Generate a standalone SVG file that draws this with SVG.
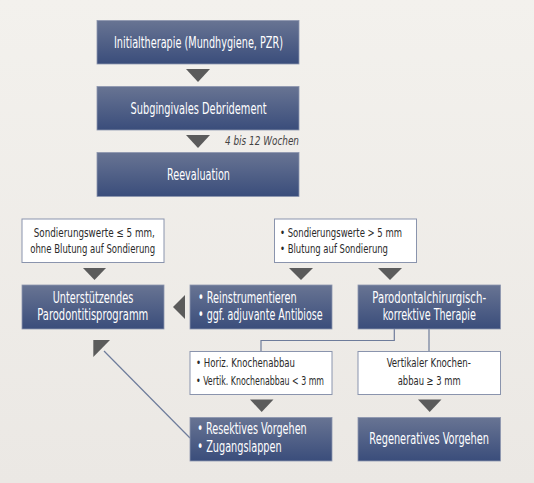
<svg xmlns="http://www.w3.org/2000/svg" width="534" height="483" viewBox="0 0 534 483">
<defs>
<linearGradient id="bg" x1="0" y1="0" x2="0" y2="1"><stop offset="0" stop-color="#f3f1ed"/><stop offset="1" stop-color="#ebe8e4"/></linearGradient>
<linearGradient id="blue" x1="0" y1="0" x2="0" y2="1"><stop offset="0" stop-color="#687493"/><stop offset="1" stop-color="#3a4d7b"/></linearGradient>
<style>
.b{fill:url(#blue);stroke:#8d96ae;stroke-width:0.8}
.w{fill:#ffffff;stroke:#8a94ad;stroke-width:1}
.tw{font-family:"Liberation Sans Narrow","DejaVu Sans Condensed","Liberation Sans",sans-serif;font-size:15px;fill:#ffffff}
.td{font-family:"Liberation Sans Narrow","DejaVu Sans Condensed","Liberation Sans",sans-serif;font-size:12.5px;fill:#2a2a2a}
.ti{font-family:"Liberation Sans Narrow","DejaVu Sans Condensed","Liberation Sans",sans-serif;font-size:11.5px;font-style:italic;fill:#444444}
.ar{fill:#5b5b5b}
.ln{fill:none;stroke:#6e7c9b;stroke-width:1.2}
</style>
</defs>
<rect width="534" height="483" fill="url(#bg)"/>
<g id="connectors">
<polygon class="ar" points="186,69 210,69 198,82"/>
<polygon class="ar" points="186,135 210,135 198,148"/>
<polygon class="ar" points="83,268 106,268 94.5,280"/>
<polygon class="ar" points="289,268 313,268 301,280"/>
<polygon class="ar" points="378,268 402,268 390,280"/>
<polygon class="ar" points="173,307 185,295 185,319"/>
<polygon class="ar" points="250,399.5 273.5,399.5 261.7,412"/>
<polygon class="ar" points="418,399.5 441.5,399.5 429.7,412"/>
<polyline class="ln" points="394.3,329 394.3,340.5 261,340.5 261,351"/>
<line class="ln" x1="429" y1="329" x2="429" y2="351"/>
<line class="ln" x1="104" y1="351" x2="190" y2="438"/>
<polygon class="ar" points="93.3,340 110,340 93.3,357"/>
<text class="ti" x="299" y="145" text-anchor="end" textLength="74" lengthAdjust="spacingAndGlyphs">4 bis 12 Wochen</text>
</g>
<g id="n1"><rect class="b" x="97" y="20.5" width="202" height="43.5"/><text class="tw" x="198.5" y="48" text-anchor="middle" textLength="169" lengthAdjust="spacingAndGlyphs">Initialtherapie (Mundhygiene, PZR)</text></g>
<g id="n2"><rect class="b" x="97" y="86.5" width="202" height="43.5"/><text class="tw" x="198.5" y="113.5" text-anchor="middle" textLength="136" lengthAdjust="spacingAndGlyphs">Subgingivales Debridement</text></g>
<g id="n3"><rect class="b" x="97" y="152.5" width="202" height="44"/><text class="tw" x="198.5" y="179.5" text-anchor="middle" textLength="63" lengthAdjust="spacingAndGlyphs">Reevaluation</text></g>
<g id="c1"><rect class="w" x="22" y="219" width="142" height="43.5"/><text class="td" x="94.3" y="237.3" text-anchor="middle" textLength="121" lengthAdjust="spacingAndGlyphs">Sondierungswerte ≤ 5 mm,</text><text class="td" x="92.7" y="253.3" text-anchor="middle" textLength="125" lengthAdjust="spacingAndGlyphs">ohne Blutung auf Sondierung</text></g>
<g id="c2"><rect class="w" x="274.5" y="219" width="142" height="43.5"/><text class="td" x="280" y="236.7" textLength="122" lengthAdjust="spacingAndGlyphs">• Sondierungswerte &gt; 5 mm</text><text class="td" x="280" y="253.3" textLength="108" lengthAdjust="spacingAndGlyphs">• Blutung auf Sondierung</text></g>
<g id="n4"><rect class="b" x="22" y="285" width="142" height="44"/><text class="tw" x="93" y="302.5" text-anchor="middle" textLength="80.6" lengthAdjust="spacingAndGlyphs">Unterstützendes</text><text class="tw" x="92.8" y="320" text-anchor="middle" textLength="111" lengthAdjust="spacingAndGlyphs">Parodontitisprogramm</text></g>
<g id="n5"><rect class="b" x="190" y="285" width="142" height="44"/><text class="tw" x="198" y="302.5" textLength="98.7" lengthAdjust="spacingAndGlyphs">• Reinstrumentieren</text><text class="tw" x="198" y="320" textLength="124.7" lengthAdjust="spacingAndGlyphs">• ggf. adjuvante Antibiose</text></g>
<g id="n6"><rect class="b" x="358" y="285" width="142.5" height="44"/><text class="tw" x="429.2" y="302.5" text-anchor="middle" textLength="113.7" lengthAdjust="spacingAndGlyphs">Parodontalchirurgisch-</text><text class="tw" x="429.3" y="320" text-anchor="middle" textLength="93.3" lengthAdjust="spacingAndGlyphs">korrektive Therapie</text></g>
<g id="c3"><rect class="w" x="190" y="351.5" width="142" height="43"/><text class="td" x="196" y="367.3" textLength="99" lengthAdjust="spacingAndGlyphs">• Horiz. Knochenabbau</text><text class="td" x="196" y="385" textLength="128" lengthAdjust="spacingAndGlyphs">• Vertik. Knochenabbau &lt; 3 mm</text></g>
<g id="c4"><rect class="w" x="358" y="351.5" width="142.5" height="43"/><text class="td" x="428.8" y="367.3" text-anchor="middle" textLength="84.3" lengthAdjust="spacingAndGlyphs">Vertikaler Knochen-</text><text class="td" x="429.2" y="385" text-anchor="middle" textLength="63" lengthAdjust="spacingAndGlyphs">abbau ≥ 3 mm</text></g>
<g id="n7"><rect class="b" x="190" y="417.5" width="142" height="43.5"/><text class="tw" x="197.3" y="434" textLength="109.4" lengthAdjust="spacingAndGlyphs">• Resektives Vorgehen</text><text class="tw" x="197.3" y="451.7" textLength="84.4" lengthAdjust="spacingAndGlyphs">• Zugangslappen</text></g>
<g id="n8"><rect class="b" x="358" y="417.5" width="142.5" height="43.5"/><text class="tw" x="429.2" y="443.5" text-anchor="middle" textLength="119.7" lengthAdjust="spacingAndGlyphs">Regeneratives Vorgehen</text></g>
</svg>
